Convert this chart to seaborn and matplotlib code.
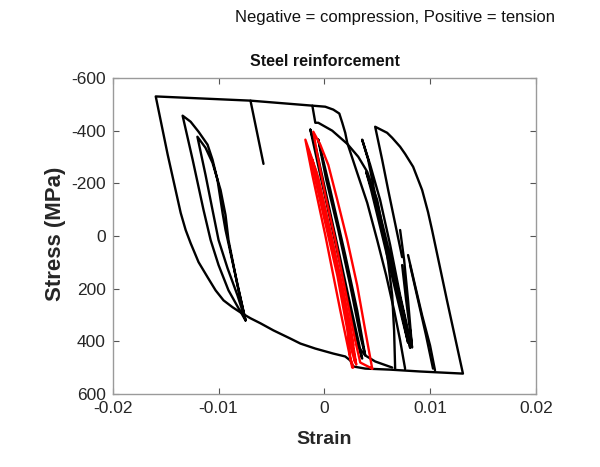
import matplotlib
matplotlib.use("Agg")
import matplotlib.pyplot as plt
import seaborn as sns
import pandas as pd

# ---- recorded stress-strain branches (strain [-], stress [MPa], tension positive) ----
envelope_strain = [0.00764, 0.00717, 0.0066, 0.00585, 0.005, 0.00406, 0.00311, 0.00217,
                   0.00198, 0.0017, 0.00142, 0.00085, 0.00009, -0.00113, -0.00698, -0.01594,
                   -0.01481, -0.01358, -0.01311, -0.01264, -0.01189, -0.01104, -0.01028,
                   -0.00953, -0.00868, -0.00792, -0.00698, -0.00604, -0.00481, -0.00321,
                   -0.00226, -0.00085, 0.00085, 0.00198, 0.00245, 0.00274, 0.00387, 0.00623,
                   0.00906, 0.01311, 0.0116, 0.01019, 0.00981, 0.00925, 0.0084, 0.00764,
                   0.00717, 0.00642, 0.00594, 0.00481, 0.00547, 0.00604, 0.00736]
envelope_stress = [503, 396, 282, 149, 15, -126, -240, -354,
                   -392, -430, -465, -480, -491, -495, -514, -530,
                   -309, -88, -23, 27, 99, 156, 206,
                   244, 270, 290, 312, 331, 358, 389,
                   408, 427, 446, 457, 472, 495, 503, 507,
                   514, 522, 244, -23, -91, -175, -263, -312,
                   -339, -373, -392, -415, -290, -175, 80]

drop_strain = [-0.00698, -0.00575]
drop_stress = [-514, -274]

left_loops_strain = [-0.00745, -0.0084, -0.00934, -0.00962, -0.0101, -0.01057, -0.01104,
                     -0.01189, -0.01264, -0.0134, -0.01245, -0.01142, -0.01075, -0.01,
                     -0.00906, -0.00811, -0.00745, -0.00821, -0.00906, -0.00934, -0.00981,
                     -0.01057, -0.01123, -0.012, -0.01123, -0.01057, -0.01, -0.00915,
                     -0.00821, -0.00745]
left_loops_stress = [320, 149, -23, -88, -213, -290, -347,
                     -396, -434, -457, -290, -99, 15, 110,
                     206, 274, 320, 187, 15, -80, -175,
                     -278, -335, -377, -232, -99, 15, 122,
                     225, 320]

kink_strain = [-0.00113, -0.00085, -0.00057, 0.00075, 0.00217, 0.00321, 0.00406, 0.005,
               0.0056, 0.00604, 0.00642, 0.0066, 0.0067]
kink_stress = [-495, -430, -430, -400, -350, -301, -244, -137,
               -15, 99, 225, 358, 503]

mid_loop_a_strain = [0.00811, 0.00755, 0.00679, 0.00575, 0.00481, 0.00415, 0.00358, 0.00434,
                     0.00528, 0.00623, 0.00717, 0.00792, 0.00811]
mid_loop_a_stress = [423, 301, 168, -4, -156, -290, -366, -270,
                     -137, 34, 225, 358, 423]

mid_loop_b_strain = [0.00792, 0.00717, 0.00623, 0.00528, 0.00453, 0.00396, 0.00443, 0.00547,
                     0.0065, 0.00736, 0.00792]
mid_loop_b_stress = [404, 263, 99, -53, -175, -244, -175, -4,
                     168, 313, 404]

right_inner_strain = [0.00717, 0.00755, 0.00792, 0.0083, 0.00811, 0.00774, 0.00736]
right_inner_stress = [-23, 91, 244, 423, 358, 244, 110]

right_a_strain = [0.00792, 0.00858, 0.00925, 0.01, 0.01047]
right_a_stress = [72, 187, 301, 415, 510]
right_b_strain = [0.00811, 0.00887, 0.00962, 0.01028]
right_b_stress = [110, 244, 377, 503]

core_a_strain = [-0.00132, -0.00038, 0.00057, 0.00151, 0.00245, 0.00321, 0.00358, 0.00321,
                 0.00226, 0.00123, 0.00019, -0.00075, -0.00132]
core_a_stress = [-404, -232, -61, 110, 282, 415, 465, 396,
                 225, 34, -156, -328, -404]
core_b_strain = [-0.00057, 0.00057, 0.00198, 0.00311, 0.00387, 0.0034, 0.00245, 0.00132,
                 0.00019, -0.00057]
core_b_stress = [-366, -175, 72, 282, 453, 377, 187, -23,
                 -213, -366]
core_tail_strain = [0.00311, 0.00387, 0.00481, 0.00642]
core_tail_stress = [415, 453, 476, 499]

red_a_strain = [0.00264, 0.00151, 0.00009, -0.00113, -0.00179, -0.00113, 0.00009, 0.00123,
                0.00217, 0.00245, 0.00274]
red_a_stress = [499, 282, -4, -232, -366, -290, -80, 130,
                339, 461, 499]
red_b_strain = [0.00453, 0.00387, 0.00311, 0.00217, 0.00123, 0.00038, -0.00038, -0.00104,
                -0.00066, 0.00009, 0.00104, 0.00198, 0.00292, 0.0034, 0.00453]
red_b_stress = [503, 358, 187, 15, -137, -270, -347, -396,
                -309, -156, 15, 206, 396, 480, 503]
red_c_strain = [-0.00151, -0.00019, 0.00123, 0.00245, 0.00292, 0.00245, 0.00151, 0.00038,
                -0.00075, -0.00151]
red_c_stress = [-328, -99, 149, 415, 480, 358, 168, -42,
                -244, -328]
red_d_strain = [-0.00113, 0.00019, 0.00151, 0.00264, 0.00302, 0.00264, 0.00179, 0.00066,
                -0.00057, -0.00113]
red_d_stress = [-290, -61, 187, 415, 488, 389, 206, -4,
                -221, -290]
red_e_strain = [-0.00075, 0.00047, 0.00179, 0.00274, 0.00236, 0.00113, -0.0001, -0.00075]
red_e_stress = [-232, -15, 225, 415, 320, 99, -118, -232]

black_branches = [
    (envelope_strain, envelope_stress),
    (drop_strain, drop_stress),
    (left_loops_strain, left_loops_stress),
    (kink_strain, kink_stress),
    (mid_loop_a_strain, mid_loop_a_stress),
    (mid_loop_b_strain, mid_loop_b_stress),
    (right_inner_strain, right_inner_stress),
    (right_a_strain, right_a_stress),
    (right_b_strain, right_b_stress),
    (core_a_strain, core_a_stress),
    (core_b_strain, core_b_stress),
    (core_tail_strain, core_tail_stress),
]
red_branches = [
    (red_a_strain, red_a_stress),
    (red_b_strain, red_b_stress),
    (red_c_strain, red_c_stress),
    (red_d_strain, red_d_stress),
    (red_e_strain, red_e_stress),
]

y_ticks = [-600, -400, -200, 0, 200, 400, 600]
y_tick_labels = ["-600", "-400", "-200", "0", "200", "400", "600"]
x_ticks = [-0.02, -0.01, 0.0, 0.01, 0.02]
x_tick_labels = ["-0.02", "-0.01", "0", "0.01", "0.02"]

sns.set_theme(style="white")
plt.rcParams["font.family"] = ["Liberation Sans", "DejaVu Sans"]
plt.rcParams["axes.unicode_minus"] = False

fig = plt.figure(figsize=(6.0, 4.67), dpi=100)
ax = fig.add_axes([0.188, 0.156, 0.705, 0.677])

def draw(branches, color):
    for s, p in branches:
        df = pd.DataFrame({"strain": s, "stress": p})
        sns.lineplot(data=df, x="strain", y="stress", sort=False, estimator=None,
                     color=color, lw=1.7, ax=ax, legend=False)

draw(black_branches, "black")
draw(red_branches, "#ff0000")

ax.set_xlim(-0.02, 0.02)
ax.set_ylim(600, -600)
ax.set_xticks(x_ticks)
ax.set_xticklabels(x_tick_labels)
ax.set_yticks(y_ticks)
ax.set_yticklabels(y_tick_labels)
ax.tick_params(direction="in", length=4, width=0.8, color="#555555",
               labelsize=12.5, labelcolor="#262626", top=True, right=True,
               bottom=True, left=True, pad=5)
for sp in ax.spines.values():
    sp.set_color("#9a9a9a")
    sp.set_linewidth(1.0)
ax.set_xlabel("")
ax.set_ylabel("")

fig.text(0.093, 0.50, "Stress (MPa)", rotation=90, ha="center", va="center",
         fontsize=16, fontweight="bold", color="#262626")
fig.text(0.541, 0.058, "Strain", ha="center", va="center",
         fontsize=14, fontweight="bold", color="#262626")
fig.text(0.541, 0.868, "Steel reinforcement", ha="center", va="center",
         fontsize=11.5, fontweight="bold", color="#111111")
fig.text(0.658, 0.962, "Negative = compression, Positive = tension", ha="center",
         va="center", fontsize=12, color="#111111")

fig.savefig("out.png", dpi=100, facecolor="white")
